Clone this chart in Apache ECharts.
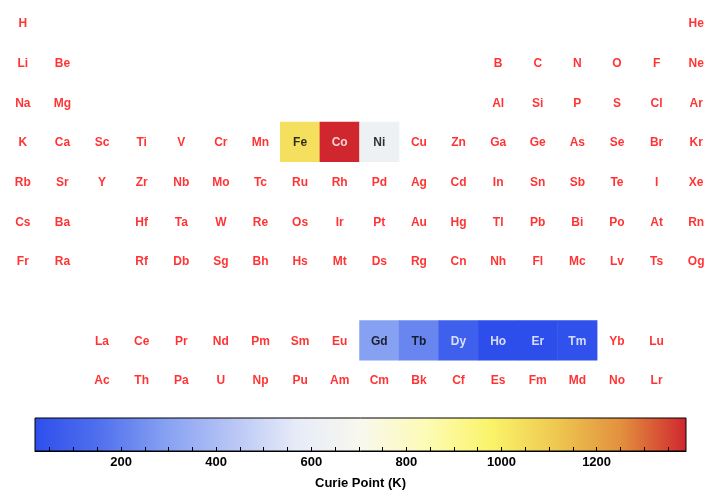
<!DOCTYPE html>
<html>
<head>
<meta charset="utf-8">
<script src="https://cdn.jsdelivr.net/npm/echarts@6/dist/echarts.min.js"></script>
<style>html,body{margin:0;padding:0;background:#fff;}#chart{width:720px;height:494px;}</style>
</head>
<body>
<div id="chart"></div>
<script>
// Periodic table layout (rows of symbols; '' = empty slot)
var tableRows = [
  ['H','','','','','','','','','','','','','','','','','He'],
  ['Li','Be','','','','','','','','','','','B','C','N','O','F','Ne'],
  ['Na','Mg','','','','','','','','','','','Al','Si','P','S','Cl','Ar'],
  ['K','Ca','Sc','Ti','V','Cr','Mn','Fe','Co','Ni','Cu','Zn','Ga','Ge','As','Se','Br','Kr'],
  ['Rb','Sr','Y','Zr','Nb','Mo','Tc','Ru','Rh','Pd','Ag','Cd','In','Sn','Sb','Te','I','Xe'],
  ['Cs','Ba','','Hf','Ta','W','Re','Os','Ir','Pt','Au','Hg','Tl','Pb','Bi','Po','At','Rn'],
  ['Fr','Ra','','Rf','Db','Sg','Bh','Hs','Mt','Ds','Rg','Cn','Nh','Fl','Mc','Lv','Ts','Og'],
  ['','','','','','','','','','','','','','','','','',''],
  ['','','La','Ce','Pr','Nd','Pm','Sm','Eu','Gd','Tb','Dy','Ho','Er','Tm','Yb','Lu',''],
  ['','','Ac','Th','Pa','U','Np','Pu','Am','Cm','Bk','Cf','Es','Fm','Md','No','Lr','']
];
// Curie points (K)
var curieElements = ['Fe','Co','Ni','Gd','Tb','Dy','Ho','Er','Tm'];
var curieValues   = [1043, 1388, 627, 292, 219, 88, 20, 19, 32];
var colorbarTicks  = [50,100,150,200,250,300,350,400,450,500,550,600,650,700,750,800,850,900,950,1000,1050,1100,1150,1200,1250,1300,1350];
var colorbarLabels = [200,400,600,800,1000,1200];
var scaleColors = ['#2E4EEC','#5070EE','#86A0F2','#B6C4F5','#E6EBF8','#F8F8EE','#FDFBB6','#FAF46A','#EEC850','#E2903E','#D0262E'];
var vMin = 19, vMax = 1388;

var heatData = [], labelData = [];
var FONT = '"Liberation Sans", Arial, Helvetica, sans-serif';
for (var r = 0; r < tableRows.length; r++) {
  for (var c = 0; c < tableRows[r].length; c++) {
    var s = tableRows[r][c];
    if (!s) continue;
    var k = curieElements.indexOf(s);
    var col = '#FF0000';
    if (k >= 0) {
      var v = curieValues[k];
      heatData.push([c, r, v]);
      col = (v < 150 || v > 1200) ? '#FFFFFF' : '#000000';
    }
    labelData.push({value: [c, r], name: s, label: {color: col}});
  }
}
var cats = function(n){ var a=[]; for(var i=0;i<n;i++) a.push(String(i)); return a; };
var stops = scaleColors.map(function(cc, i){ return {offset: i/(scaleColors.length-1), color: cc}; });

var chart = echarts.init(document.getElementById('chart'), null, {renderer: 'canvas'});
chart.setOption({
  animation: false,
  backgroundColor: '#fff',
  grid: [
    {left: 3, right: 4, top: 3, bottom: 94, containLabel: false},
    {left: 35, right: 34, top: 418, height: 33, show: true,
     backgroundColor: {type: 'linear', x: 0, y: 0, x2: 1, y2: 0, colorStops: stops},
     borderColor: '#000', borderWidth: 1}
  ],
  xAxis: [
    {type: 'category', gridIndex: 0, data: cats(18), show: false},
    {type: 'value', gridIndex: 1, min: vMin, max: vMax, position: 'bottom',
     axisLine: {show: true, lineStyle: {color: '#000', width: 1}},
     axisTick: {show: true, inside: true, length: 4, customValues: colorbarTicks, lineStyle: {color: '#000'}},
     axisLabel: {show: true, customValues: colorbarLabels, color: '#000', fontWeight: 'bold', fontSize: 13, fontFamily: FONT, margin: 5,
                 formatter: function(v){ return String(v); }},
     splitLine: {show: false},
     name: 'Curie Point (K)', nameLocation: 'middle', nameGap: 26,
     nameTextStyle: {color: '#000', fontWeight: 'bold', fontSize: 13, fontFamily: FONT}}
  ],
  yAxis: [
    {type: 'category', gridIndex: 0, data: cats(10), inverse: true, show: false},
    {type: 'value', gridIndex: 1, min: 0, max: 1, show: false}
  ],
  visualMap: {
    show: false, type: 'continuous', min: vMin, max: vMax, dimension: 2,
    seriesIndex: 0, inRange: {color: scaleColors}
  },
  series: [
    {type: 'heatmap', xAxisIndex: 0, yAxisIndex: 0, data: heatData,
     itemStyle: {borderWidth: 0}, label: {show: false}, silent: true},
    {type: 'scatter', xAxisIndex: 0, yAxisIndex: 0, data: labelData,
     symbol: 'rect', symbolSize: 30, itemStyle: {color: 'rgba(0,0,0,0)'}, silent: true, z: 5,
     label: {show: true, position: 'inside', formatter: '{b}', fontSize: 12, fontWeight: 'bold', fontFamily: FONT, offset: [0, 1]}}
  ]
});
</script>
</body>
</html>
